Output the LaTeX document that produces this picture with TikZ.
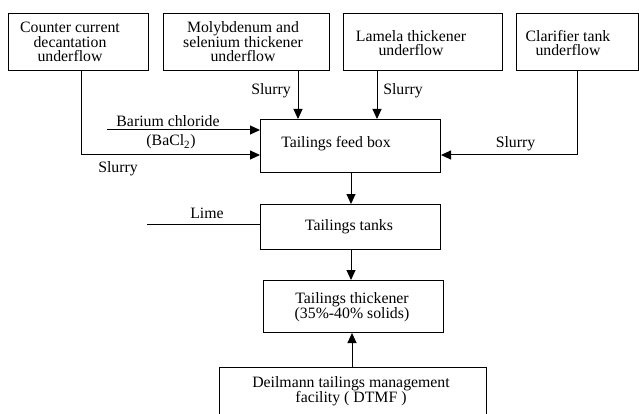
\documentclass[tikz,border=0pt]{standalone}
\usepackage{fontspec}
\setmainfont{Liberation Serif}
\usetikzlibrary{arrows.meta}
\begin{document}
\begin{tikzpicture}[x=1pt,y=-1pt,
  box/.style={draw,line width=1pt,inner sep=0pt,anchor=north west},
  txt/.style={inner sep=0pt,align=center,font=\fontsize{15.8}{14.5}\selectfont},
  line/.style={line width=1pt},
  arr/.style={line width=1pt,-{Triangle[length=10pt,width=9pt]}}]
\useasboundingbox (0,0) rectangle (639,414);
\clip (0,0) rectangle (639,414);
% top boxes
\node[box,minimum width=140pt,minimum height=57pt] (b1) at (8,13) {};
\node[txt] (t1) at (70,42) {Counter current\\decantation\\underflow};
\node[box,minimum width=166pt,minimum height=57pt] (b2) at (163,13) {};
\node[txt] (t2) at (243,42) {Molybdenum and\\selenium thickener\\underflow};
\node[box,minimum width=159pt,minimum height=57pt] (b3) at (343,13) {};
\node[txt] (t3) at (411,43) {Lamela thickener\\underflow};
\node[box,minimum width=122pt,minimum height=57pt] (b4) at (516,13) {};
\node[txt] (t4) at (568,43) {Clarifier tank\\underflow};
% feed box
\node[box,minimum width=180pt,minimum height=53pt] (feed) at (260,119) {};
\node[txt] (tf) at (336,144) {Tailings feed box};
% tanks
\node[box,minimum width=180pt,minimum height=45pt] (tanks) at (260,204) {};
\node[txt] (tt) at (349,227) {Tailings tanks};
% thickener
\node[box,minimum width=180pt,minimum height=52pt] (thick) at (263,280) {};
\node[txt] (tk) at (352,307) {Tailings thickener\\(35\%-40\% solids)};
% DTMF
\node[box,minimum width=267pt,minimum height=60pt] (dtmf) at (219,367) {};
\node[txt] (td) at (351,391) {Deilmann tailings management\\facility ( DTMF )};
% coordinates
\coordinate (xccd) at (81,0);
\coordinate (yccd) at (0,155);
\coordinate (xmo) at (298,0);
\coordinate (xla) at (377,0);
\coordinate (xcl) at (577,0);
\coordinate (baS) at (107,130);
\coordinate (xfd) at (351,0);
\coordinate (limeS) at (147,224);
\coordinate (xdt) at (352,0);
% connectors
\draw[arr] (b1.south -| xccd) |- (feed.west |- yccd);
\draw[arr] (baS) -- (feed.west |- baS);
\draw[arr] (b2.south -| xmo) -- (feed.north -| xmo);
\draw[arr] (b3.south -| xla) -- (feed.north -| xla);
\draw[arr] (b4.south -| xcl) |- (feed.east |- yccd);
\draw[arr] (feed.south -| xfd) -- (tanks.north -| xfd);
\draw[line] (limeS) -- (tanks.west |- limeS);
\draw[arr] (tanks.south -| xfd) -- (thick.north -| xfd);
\draw[arr] (dtmf.north -| xdt) -- (thick.south -| xdt);
% labels
\node[txt] (l1) at (168,121) {Barium chloride};
\node[txt] (l2) at (171,142) {(BaCl\textsubscript{2})};
\node[txt] (s1) at (118,169) {Slurry};
\node[txt] (s2) at (271,91) {Slurry};
\node[txt] (s3) at (403,91) {Slurry};
\node[txt] (s4) at (515.5,144) {Slurry};
\node[txt] (lime) at (207,213) {Lime};
\end{tikzpicture}
\end{document}
